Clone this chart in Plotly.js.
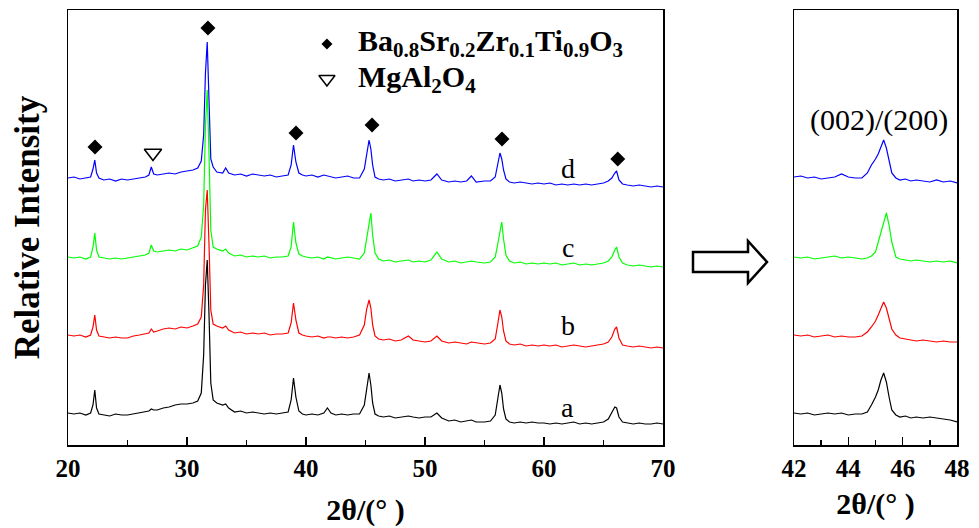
<!DOCTYPE html>
<html>
<head>
<meta charset="utf-8">
<script src="https://cdn.plot.ly/plotly-3.0.1.min.js"></script>
<style>html,body{margin:0;padding:0;background:#fff;}#chart{width:979px;height:528px;}</style>
</head>
<body>
<div id="chart"></div>
<script>
// ---------- data (intensity in arbitrary units, curves already stacked) ----------
const twoTheta = [
 20, 20.5, 21, 21.5, 21.9, 22.1, 22.25, 22.4, 22.6, 23,
 23.5, 24, 24.5, 25, 25.5, 26, 26.5, 26.8, 27.0, 27.2,
 27.5, 28, 28.5, 29, 29.5, 30, 30.5, 30.9, 31.2, 31.4,
 31.55, 31.7, 31.85, 32.0, 32.2, 32.5, 33.0, 33.25, 33.5, 34,
 34.5, 35, 35.5, 36, 36.5, 37, 37.5, 38, 38.5, 38.75,
 38.95, 39.15, 39.4, 39.7, 40, 40.5, 41, 41.5, 41.8, 42.1,
 42.5, 43, 43.5, 44, 44.5, 44.9, 45.1, 45.3, 45.45, 45.6,
 45.8, 46.1, 46.5, 47, 47.5, 48, 48.6, 49, 49.5, 50,
 50.5, 51.0, 51.4, 52, 52.5, 53, 53.5, 53.9, 54.3, 55,
 55.5, 55.9, 56.1, 56.3, 56.45, 56.6, 56.8, 57.1, 57.5, 58,
 58.5, 59, 59.5, 60, 60.5, 61, 61.5, 62, 62.5, 63,
 63.5, 64, 64.5, 65, 65.4, 65.7, 65.95, 66.1, 66.3, 66.6,
 67, 67.5, 68, 68.5, 69, 69.5, 70
];
const intensityD = [ // blue
 267, 268, 266, 267, 268, 276, 285, 272, 267, 265,
 266, 264, 266, 265, 266, 267, 268, 270, 278, 271,
 270, 271, 272, 271, 273, 274, 275, 277, 284, 310,
 372, 403, 330, 286, 278, 273, 272, 277, 272, 270,
 271, 269, 271, 270, 269, 270, 268, 269, 270, 280,
 300, 283, 272, 270, 269, 270, 268, 270, 269, 268,
 267, 268, 269, 267, 267, 276, 292, 305, 296, 280,
 268, 266, 265, 266, 264, 265, 266, 264, 265, 264,
 265, 271, 265, 263, 264, 263, 264, 269, 263, 264,
 264, 268, 280, 292, 286, 275, 266, 263, 262, 263,
 262, 261, 262, 261, 262, 260, 261, 260, 261, 260,
 261, 260, 261, 262, 264, 267, 272, 274, 265, 261,
 260, 259, 260, 259, 258, 259, 258
];
const intensityC = [ // green
 188, 187, 188, 186, 188, 198, 212, 195, 188, 187,
 186, 187, 186, 187, 188, 189, 190, 192, 200, 194,
 193, 194, 195, 194, 196, 195, 197, 199, 208, 240,
 320, 355, 290, 215, 198, 196, 194, 196, 192, 189,
 190, 188, 189, 188, 189, 187, 188, 188, 189, 198,
 223, 202, 191, 189, 188, 187, 188, 186, 188, 187,
 186, 187, 188, 187, 186, 192, 208, 224, 232, 210,
 192, 186, 184, 185, 183, 184, 185, 183, 184, 183,
 185, 193, 186, 183, 184, 182, 183, 184, 183, 182,
 183, 188, 200, 215, 223, 206, 190, 184, 182, 183,
 181, 182, 181, 182, 181, 182, 180, 181, 182, 180,
 181, 180, 181, 182, 184, 188, 195, 198, 188, 182,
 180, 179, 180, 179, 178, 179, 178
];
const intensityB = [ // red
 110, 109, 110, 108, 110, 118, 130, 115, 109, 108,
 107, 108, 107, 107, 109, 110, 111, 112, 116, 113,
 114, 116, 117, 116, 118, 117, 119, 121, 128, 160,
 235, 255, 200, 135, 121, 119, 117, 119, 115, 112,
 113, 111, 112, 111, 112, 110, 111, 111, 112, 122,
 142, 125, 112, 110, 109, 108, 109, 107, 108, 108,
 107, 108, 107, 108, 110, 120, 136, 145, 137, 120,
 109, 106, 105, 106, 104, 105, 109, 105, 104, 103,
 104, 109, 104, 102, 103, 102, 101, 103, 102, 101,
 102, 106, 120, 135, 128, 114, 104, 101, 100, 101,
 99, 100, 99, 100, 99, 100, 98, 99, 100, 99,
 98, 99, 100, 101, 103, 108, 116, 118, 107, 100,
 99, 98, 99, 98, 97, 98, 97
];
const intensityA = [ // black
 32, 31, 32, 30, 32, 40, 55, 37, 31, 30,
 29, 31, 30, 30, 31, 32, 33, 34, 36, 35,
 35, 37, 38, 40, 41, 41, 42, 44, 52, 90,
 160, 185, 130, 62, 45, 42, 40, 41, 37, 33,
 34, 32, 33, 32, 31, 32, 31, 32, 33, 45,
 67, 48, 34, 31, 30, 31, 30, 32, 37, 32,
 30, 31, 30, 31, 31, 40, 58, 72, 60, 42,
 31, 29, 28, 29, 27, 28, 29, 28, 27, 28,
 28, 32, 27, 24, 25, 23, 24, 25, 23, 23,
 24, 30, 45, 60, 52, 36, 26, 23, 22, 23,
 22, 23, 22, 22, 21, 22, 21, 22, 23, 21,
 22, 21, 22, 23, 26, 32, 38, 37, 28, 23,
 22, 21, 22, 21, 21, 22, 21
];
// zoomed (002)/(200) region
const zoomTheta = [42, 42.25, 42.5, 42.75, 43, 43.25, 43.5, 43.75, 44, 44.25,
 44.5, 44.7, 44.85, 45.0, 45.1, 45.2, 45.3, 45.4, 45.5, 45.6,
 45.75, 45.9, 46.1, 46.3, 46.5, 46.75, 47, 47.25, 47.5, 47.75, 48];
const zoomD = [268, 269, 267, 268, 266, 267, 268, 271, 268, 267,
 267, 272, 280, 286, 291, 298, 305, 297, 285, 272,
 267, 265, 266, 264, 265, 264, 263, 265, 263, 264, 262];
const zoomC = [188, 187, 188, 186, 187, 188, 189, 187, 188, 187,
 186, 187, 189, 193, 203, 212, 222, 232, 220, 203,
 188, 186, 185, 184, 185, 184, 183, 184, 183, 184, 182];
const zoomB = [110, 109, 110, 108, 109, 110, 108, 109, 108, 108,
 109, 113, 118, 124, 130, 136, 143, 137, 125, 116,
 110, 107, 106, 105, 104, 105, 104, 103, 104, 103, 103];
const zoomA = [32, 31, 32, 30, 31, 32, 31, 32, 30, 31,
 31, 33, 40, 48, 55, 65, 72, 63, 48, 35,
 30, 28, 29, 27, 28, 27, 28, 27, 26, 25, 23];
// phase markers
const perovskiteTheta = [22.27, 31.76, 39.16, 45.55, 56.47, 66.2];
const perovskiteMarkY = [298, 417, 312, 320, 306, 286];
const spinelTheta = [27.14];
const spinelMarkY = [292];
const seriesLabels = ['a', 'b', 'c', 'd'];
const seriesColors = ['#000000', '#ff0000', '#00ff00', '#0000ff'];
const xTicksMain = [20, 30, 40, 50, 60, 70];
const xTicksZoom = [42, 44, 46, 48];

// ---------- layout helpers ----------
const W = 979, H = 528;
const px = x => x / W;
const py = y => 1 - y / H;
const serif = 'Liberation Serif, Times New Roman, serif';

const mainY = [intensityA, intensityB, intensityC, intensityD];
const zoomY = [zoomA, zoomB, zoomC, zoomD];
const traces = [];
// draw blue first, black last
for (let i = 3; i >= 0; i--) {
  traces.push({x: twoTheta, y: mainY[i], type: 'scatter', mode: 'lines',
    line: {color: seriesColors[i], width: 1.2}, xaxis: 'x', yaxis: 'y', name: seriesLabels[i], hoverinfo: 'skip'});
}
for (let i = 3; i >= 0; i--) {
  traces.push({x: zoomTheta, y: zoomY[i], type: 'scatter', mode: 'lines',
    line: {color: seriesColors[i], width: 1.2}, xaxis: 'x2', yaxis: 'y2', name: seriesLabels[i] + ' (zoom)', hoverinfo: 'skip'});
}
traces.push({x: perovskiteTheta, y: perovskiteMarkY, type: 'scatter', mode: 'markers',
  marker: {symbol: 'diamond', size: 11.5, color: '#000'}, xaxis: 'x', yaxis: 'y', name: 'Ba0.8Sr0.2Zr0.1Ti0.9O3'});
traces.push({x: spinelTheta, y: spinelMarkY, type: 'scatter', mode: 'markers',
  marker: {symbol: 'triangle-down-open', size: 15, color: '#000', line: {width: 1.6, color: '#000'}}, xaxis: 'x', yaxis: 'y', name: 'MgAl2O4'});
// legend key markers (placed in data coordinates of main panel)
traces.push({x: [41.76], y: [401], type: 'scatter', mode: 'markers',
  marker: {symbol: 'diamond', size: 8.5, color: '#000'}, xaxis: 'x', yaxis: 'y', hoverinfo: 'skip'});
traces.push({x: [41.76], y: [366], type: 'scatter', mode: 'markers',
  marker: {symbol: 'triangle-down-open', size: 14, color: '#000', line: {width: 1.5, color: '#000'}}, xaxis: 'x', yaxis: 'y', hoverinfo: 'skip'});

const tickFont = {family: serif, size: 25, color: '#000', weight: 'bold'};
const titleFont = {family: serif, size: 30, color: '#000', weight: 'bold'};
const commonX = {
  ticks: 'inside', ticklen: 8, tickwidth: 1.5, tickcolor: '#000',
  showline: true, mirror: true, linecolor: '#000', linewidth: 1.5,
  showgrid: false, zeroline: false, tickfont: tickFont, tickmode: 'array'
};
const commonY = {
  range: [0, 435], showticklabels: false, ticks: '', showline: true, mirror: true,
  linecolor: '#000', linewidth: 1.5, showgrid: false, zeroline: false,
  domain: [py(445), py(10)]
};

const annotations = [];
const labelLevels = [38, 120, 198, 277];
seriesLabels.forEach((t, i) => annotations.push({
  x: 62.0, y: labelLevels[i], xref: 'x', yref: 'y', text: t, showarrow: false,
  font: {family: serif, size: 28, color: '#000'}
}));
annotations.push({x: px(356), y: py(43), xref: 'paper', yref: 'paper', xanchor: 'left', yanchor: 'middle',
  text: 'Ba<sub>0.8</sub>Sr<sub>0.2</sub>Zr<sub>0.1</sub>Ti<sub>0.9</sub>O<sub>3</sub>', showarrow: false,
  font: {family: serif, size: 30, color: '#000', weight: 'bold'}});
annotations.push({x: px(356), y: py(79), xref: 'paper', yref: 'paper', xanchor: 'left', yanchor: 'middle',
  text: 'MgAl<sub>2</sub>O<sub>4</sub>', showarrow: false,
  font: {family: serif, size: 30, color: '#000', weight: 'bold'}});
annotations.push({x: px(879), y: py(120), xref: 'paper', yref: 'paper', xanchor: 'center', yanchor: 'middle',
  text: '(002)/(200)', showarrow: false, font: {family: serif, size: 30, color: '#000'}});

const arrowPts = [[693, 252], [748, 252], [748, 241], [767, 262], [748, 283], [748, 272], [693, 272]];
const arrowPath = 'M ' + arrowPts.map(p => px(p[0]).toFixed(5) + ',' + py(p[1]).toFixed(5)).join(' L ') + ' Z';

const layout = {
  width: W, height: H, margin: {l: 0, r: 0, t: 0, b: 0},
  paper_bgcolor: '#fff', plot_bgcolor: '#fff', showlegend: false,
  xaxis: Object.assign({}, commonX, {
    domain: [px(68), px(663)], range: [20, 70], tickvals: xTicksMain, ticktext: xTicksMain.map(String),
    minor: {tickvals: [25, 35, 45, 55, 65], ticks: 'inside', ticklen: 5, tickwidth: 1.5, tickcolor: '#000', showgrid: false},
    anchor: 'y', title: {text: '2θ/(° )', font: titleFont, standoff: 18}
  }),
  yaxis: Object.assign({}, commonY, {anchor: 'x',
    title: {text: 'Relative Intensity', font: {family: serif, size: 35, color: '#000', weight: 'bold'}, standoff: 16}}),
  xaxis2: Object.assign({}, commonX, {
    domain: [px(794), px(957)], range: [42, 48], tickvals: xTicksZoom, ticktext: xTicksZoom.map(String),
    minor: {tickvals: [43, 45, 47], ticks: 'inside', ticklen: 5, tickwidth: 1.5, tickcolor: '#000', showgrid: false},
    anchor: 'y2', title: {text: '2θ/(° )', font: titleFont, standoff: 12}
  }),
  yaxis2: Object.assign({}, commonY, {anchor: 'x2'}),
  annotations: annotations,
  shapes: [{type: 'path', xref: 'paper', yref: 'paper', path: arrowPath,
    line: {color: '#000', width: 2.5}, fillcolor: '#fff'}]
};

Plotly.newPlot('chart', traces, layout, {staticPlot: true, displayModeBar: false});
</script>
</body>
</html>
